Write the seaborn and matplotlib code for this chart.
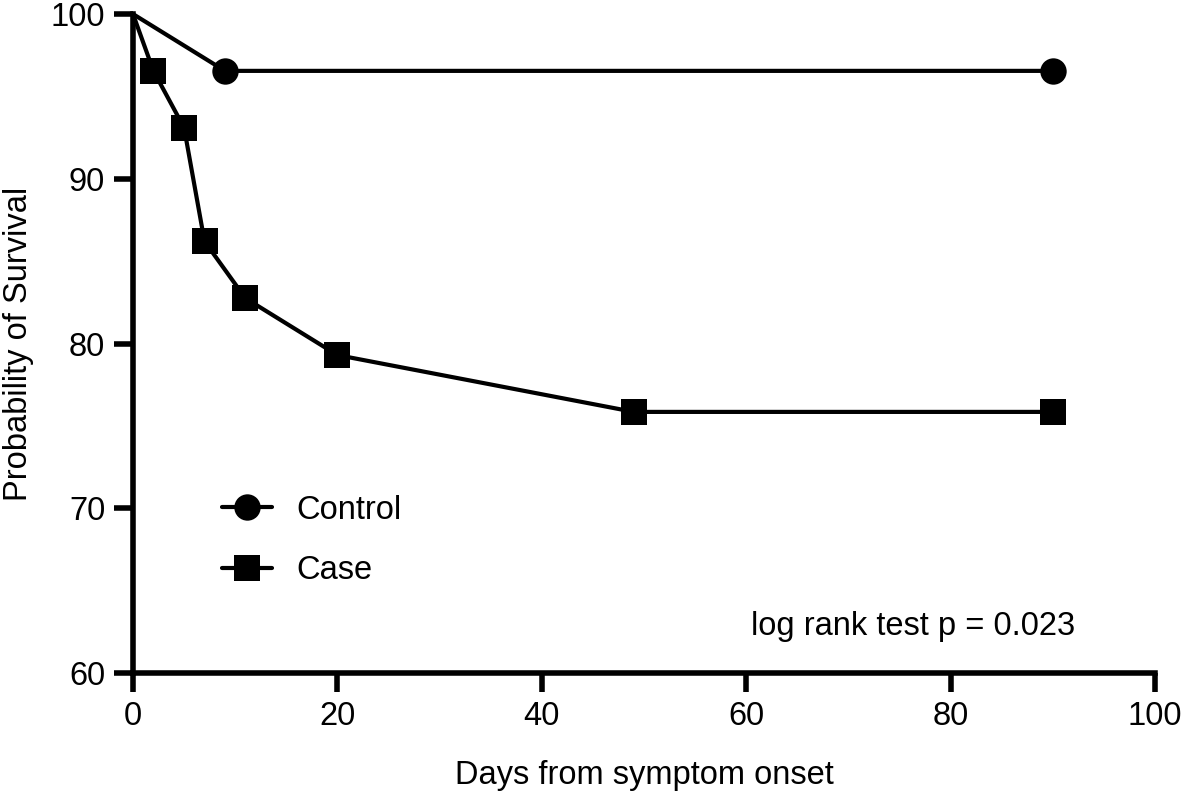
import pandas as pd
import matplotlib
matplotlib.use('Agg')
import matplotlib.pyplot as plt
import seaborn as sns
from matplotlib.lines import Line2D

# survival curves
control_days = [0, 9, 90]
control_surv = [100, 96.55, 96.55]
case_days = [0, 2, 5, 7, 11, 20, 49, 90]
case_surv = [100, 96.55, 93.1, 86.2, 82.75, 79.3, 75.85, 75.85]
x_ticks = [0, 20, 40, 60, 80, 100]
y_ticks = [60, 70, 80, 90, 100]

df = pd.concat([
    pd.DataFrame({'day': control_days, 'surv': control_surv, 'group': 'Control'}),
    pd.DataFrame({'day': case_days, 'surv': case_surv, 'group': 'Case'}),
], ignore_index=True)

sns.set_style('ticks')
plt.rcParams['font.family'] = ['Liberation Sans', 'DejaVu Sans']
plt.rcParams['text.color'] = 'black'

fig = plt.figure(figsize=(11.81, 7.93), dpi=100)
ax = fig.add_axes([0.1126, 0.1513, 0.8654, 0.831])

sns.lineplot(data=df, x='day', y='surv', hue='group', style='group',
             palette={'Control': 'black', 'Case': 'black'},
             markers={'Control': 'o', 'Case': 's'}, dashes=False,
             markersize=19, linewidth=3, markevery=slice(1, None),
             markeredgewidth=0, legend=False, ax=ax, clip_on=False)

fs = 23.5
ax.set_xlim(0, 100)
ax.set_ylim(60, 100)
ax.set_xticks(x_ticks)
ax.set_yticks(y_ticks)
for side in ['top', 'right']:
    ax.spines[side].set_visible(False)
for side in ['left', 'bottom']:
    ax.spines[side].set_linewidth(4)
    ax.spines[side].set_color('black')
ax.tick_params(width=4, length=14, labelsize=fs, color='black', labelcolor='black', pad=6)
ax.set_xlabel('Days from symptom onset', fontsize=fs, labelpad=20, color='black')
ax.set_ylabel('Probability of Survival', fontsize=fs, labelpad=12, color='black')

handles = [Line2D([], [], color='black', lw=3, marker='o', markersize=19, markeredgewidth=0),
           Line2D([], [], color='black', lw=3, marker='s', markersize=19, markeredgewidth=0)]
ax.legend(handles, ['Control', 'Case'], loc='upper left', bbox_to_anchor=(0.058, 0.315),
          frameon=False, fontsize=fs, handlelength=1.55, handletextpad=0.75, labelspacing=0.9,
          labelcolor='black')

ax.text(0.922, 0.07, 'log rank test p = 0.023', transform=ax.transAxes,
        ha='right', va='center', fontsize=fs, color='black')

fig.savefig('out.png', dpi=100)
